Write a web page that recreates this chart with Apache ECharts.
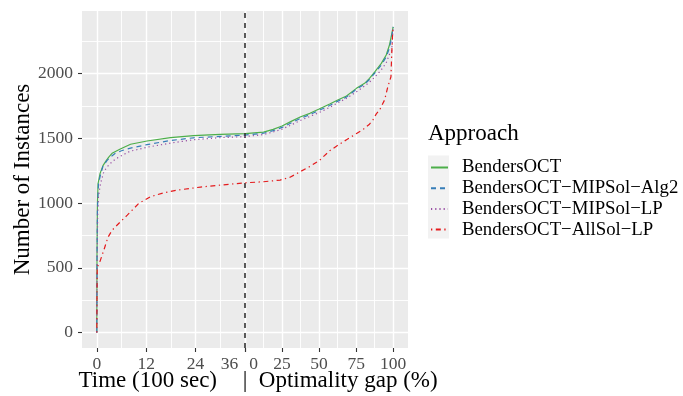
<!DOCTYPE html>
<html>
<head>
<meta charset="utf-8">
<script src="https://cdn.jsdelivr.net/npm/echarts@6/dist/echarts.min.js"></script>
<style>
  html, body { margin: 0; padding: 0; background: #fff; }
  #chart { width: 683px; height: 396px; }
</style>
</head>
<body>
<div id="chart"></div>
<script>
const FONT = "'Liberation Serif', 'DejaVu Serif', serif";

// axis breaks
const timeTicks = [0, 12, 24, 36];
const gapTicks = [0, 25, 50, 75, 100];
const countTicks = [0, 500, 1000, 1500, 2000];
const timeMinor = [6, 18, 30];
const gapMinor = [12.5, 37.5, 62.5, 87.5];
const countMinor = [250, 750, 1250, 1750, 2250];

const approaches = ['BendersOCT', 'BendersOCT−MIPSol−Alg2', 'BendersOCT−MIPSol−LP', 'BendersOCT−AllSol−LP'];

// [time (100 sec), instances]
const octTime = [[0, 0], [0.05, 600], [0.15, 1000], [0.3, 1150], [0.8, 1230], [1.5, 1290], [2.2, 1325], [2.9, 1356], [3.7, 1385], [5.7, 1418], [8.2, 1455], [12.2, 1480], [17.9, 1506], [23.5, 1521], [30, 1531], [36, 1537]];
const alg2Time = [[0, 0], [0.05, 550], [0.15, 950], [0.4, 1150], [0.9, 1220], [1.5, 1285], [2.5, 1330], [3.5, 1360], [4.5, 1385], [6, 1405], [8.2, 1425], [12.2, 1452], [17.9, 1484], [23.5, 1505], [30, 1516], [36, 1526]];
const mipLpTime = [[0, 0], [0.05, 500], [0.2, 900], [0.4, 1050], [0.9, 1152], [1.7, 1242], [2.5, 1280], [3.3, 1307], [4.5, 1340], [5.5, 1358], [8, 1400], [12.2, 1432], [17.9, 1464], [23.5, 1490], [30, 1506], [36, 1514]];
const allLpTime = [[0, 0], [0.05, 300], [0.1, 507], [0.6, 534], [1.7, 636], [2.7, 735], [3.7, 790], [5.7, 855], [7.4, 907], [10.2, 998], [13, 1049], [16.3, 1080], [19.5, 1100], [25.2, 1124], [30, 1139], [36, 1157]];

// [optimality gap (%), instances]
const octGap = [[0, 1537], [12.5, 1549], [19, 1570], [25, 1596], [31.5, 1634], [37.6, 1668], [43.8, 1694], [50, 1727], [57.2, 1766], [62.6, 1797], [68.5, 1828], [75.2, 1887], [80.7, 1926], [84, 1964], [87.7, 2016], [92, 2080], [95.3, 2145], [97.5, 2222], [99.1, 2312], [100, 2362]];
const alg2Gap = [[0, 1526], [12.5, 1540], [19, 1560], [25, 1585], [31.5, 1622], [37.6, 1656], [43.8, 1684], [50, 1717], [57.2, 1755], [62.6, 1788], [68.5, 1820], [75.2, 1880], [80.7, 1920], [84, 1955], [87.7, 2006], [92, 2068], [95.3, 2130], [97.5, 2200], [99.1, 2290], [100, 2362]];
const mipLpGap = [[0, 1514], [12.5, 1530], [19, 1550], [25, 1572], [31.5, 1606], [37.6, 1640], [43.8, 1670], [50, 1700], [57.2, 1740], [62.6, 1775], [68.5, 1810], [75.2, 1860], [80.7, 1905], [84, 1935], [87.7, 1975], [92, 2030], [95.3, 2085], [97.5, 2150], [99, 2175], [100, 2362]];
const allLpGap = [[0, 1157], [12.5, 1165], [23.7, 1178], [30.4, 1200], [37.1, 1242], [43.8, 1283], [50.5, 1333], [57.2, 1405], [61.7, 1440], [68.5, 1490], [75, 1536], [79.6, 1568], [84, 1610], [86.3, 1642], [88.6, 1690], [90.8, 1719], [94.2, 1797], [96.4, 1900], [98.5, 1977], [99, 2150], [99.5, 2280], [100, 2362]];

// gap panel is glued after the time panel on one axis
const TIME_MAX = 36;
const GAP_SCALE = 0.36;
const toX = g => TIME_MAX + g * GAP_SCALE;
const joinParts = (t, g) => t.concat(g.map(p => [toX(p[0]), p[1]]));

const X_MIN = -3.6, X_MAX = 75.6;
const Y_MIN = -120, Y_MAX = 2485;

const colors = ['#4DAF4A', '#377EB8', '#984EA3', '#E41A1C'];
const dashes = ['solid', [5, 4], [1.2, 3], [1.3, 3.5, 5, 3.5]];
const parts = [[octTime, octGap], [alg2Time, alg2Gap], [mipLpTime, mipLpGap], [allLpTime, allLpGap]];

const noLine = { show: false, onZero: false };
const tickStyle = { show: true, length: 4, lineStyle: { color: '#333333', width: 1.1 } };
const labelFont = { fontFamily: FONT, fontSize: 17.5, color: '#4D4D4D' };
const majorLine = { show: true, lineStyle: { color: '#FFFFFF', width: 1.4 } };
const minorLine = { show: true, lineStyle: { color: '#FFFFFF', width: 0.9 } };

const chart = echarts.init(document.getElementById('chart'));

const option = {
  animation: false,
  backgroundColor: '#FFFFFF',
  grid: {
    left: 82, top: 11, width: 326, height: 337,
    show: true, backgroundColor: '#EBEBEB', borderWidth: 0
  },
  title: {
    text: 'Approach', left: 428, top: 122, padding: 0,
    textStyle: { fontFamily: FONT, fontSize: 23, fontWeight: 'normal', color: '#000', lineHeight: 23 }
  },
  legend: {
    orient: 'vertical', left: 430, top: 158, padding: 0,
    itemWidth: 17, itemHeight: 14, itemGap: 1.7, z: 5,
    itemStyle: { opacity: 0 },
    textStyle: { fontFamily: FONT, fontSize: 18.8, color: '#000', padding: [0, 0, 0, 9] },
    data: approaches
  },
  graphic: [
    { type: 'rect', left: 428, top: 155.5, z: 0, shape: { width: 21, height: 83 }, style: { fill: '#F2F2F2' } },
    { type: 'text', x: 217, y: 381, style: { text: 'Time (100 sec)', font: '23px ' + FONT, fill: '#000', textAlign: 'right', textVerticalAlign: 'middle' } },
    { type: 'text', x: 242.7, y: 381, style: { text: '|  Optimality gap (%)', font: '23px ' + FONT, fill: '#000', textAlign: 'left', textVerticalAlign: 'middle' } }
  ],
  xAxis: [
    {
      type: 'value', min: X_MIN, max: X_MAX, position: 'bottom',
      axisLine: noLine,
      axisTick: Object.assign({ customValues: timeTicks }, tickStyle),
      axisLabel: Object.assign({
        customValues: timeTicks, margin: 7,
        formatter: v => v === TIME_MAX ? '{l|' + v + '}' : String(v),
        rich: { l: Object.assign({ padding: [0, 31, 0, 0] }, labelFont) }
      }, labelFont),
      splitLine: majorLine
    },
    {
      type: 'value', min: X_MIN, max: X_MAX, position: 'bottom',
      axisLine: noLine,
      axisTick: Object.assign({ customValues: gapTicks.map(toX) }, tickStyle),
      axisLabel: Object.assign({
        customValues: gapTicks.map(toX), margin: 7,
        formatter: v => {
          const g = Math.round((v - TIME_MAX) / GAP_SCALE);
          return g === 0 ? '{r|0}' : String(g);
        },
        rich: { r: Object.assign({ padding: [0, 0, 0, 17] }, labelFont) }
      }, labelFont),
      splitLine: majorLine
    },
    {
      type: 'value', min: X_MIN, max: X_MAX, position: 'bottom',
      axisLine: noLine,
      axisTick: { show: false, customValues: timeMinor.concat(gapMinor.map(toX)) },
      axisLabel: { show: false },
      splitLine: minorLine
    }
  ],
  yAxis: [
    {
      type: 'value', min: Y_MIN, max: Y_MAX, position: 'left',
      name: 'Number of Instances', nameLocation: 'middle', nameGap: 44,
      nameTextStyle: { fontFamily: FONT, fontSize: 23, color: '#000' },
      axisLine: noLine,
      axisTick: Object.assign({ customValues: countTicks }, tickStyle),
      axisLabel: Object.assign({ customValues: countTicks, margin: 9, formatter: v => String(v) }, labelFont),
      splitLine: majorLine
    },
    {
      type: 'value', min: Y_MIN, max: Y_MAX, position: 'left',
      axisLine: noLine,
      axisTick: { show: false, customValues: countMinor },
      axisLabel: { show: false },
      splitLine: minorLine
    }
  ],
  series: approaches.map((name, i) => ({
    name: name,
    type: 'line',
    xAxisIndex: 0,
    yAxisIndex: 0,
    data: joinParts(parts[i][0], parts[i][1]),
    symbol: 'none',
    showSymbol: false,
    z: 3 + i,
    itemStyle: { color: colors[i] },
    lineStyle: { color: colors[i], width: 1.2, type: dashes[i] },
    markLine: i === 0 ? {
      silent: true,
      symbol: ['none', 'none'],
      label: { show: false },
      lineStyle: { color: '#333333', width: 1.6, type: [5, 5] },
      data: [{ xAxis: TIME_MAX }]
    } : undefined
  }))
};

chart.setOption(option);
</script>
</body>
</html>
